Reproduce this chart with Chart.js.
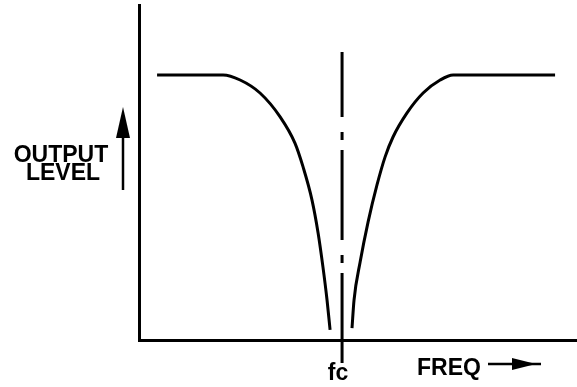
<!DOCTYPE html>
<html>
<head>
<meta charset="utf-8">
<script src="https://cdn.jsdelivr.net/npm/chart.js@4/dist/chart.umd.min.js"></script>
<style>
  html, body { margin: 0; padding: 0; background: #fff; }
  #wrap { width: 577px; height: 387px; }
</style>
</head>
<body>
<div id="wrap"><canvas id="notch"></canvas></div>
<script>
// frequency normalised to fc, output level normalised to the passband
const lowerFreq  = [0.089, 0.300, 0.414, 0.498, 0.596, 0.695, 0.768, 0.808, 0.852, 0.882, 0.906, 0.926, 0.941];
const lowerLevel = [1.000, 1.000, 1.000, 0.981, 0.932, 0.842, 0.743, 0.653, 0.528, 0.404, 0.275, 0.151, 0.038];
const upperFreq  = [1.049, 1.059, 1.089, 1.128, 1.172, 1.212, 1.251, 1.320, 1.399, 1.483, 1.547, 2.049];
const upperLevel = [0.045, 0.151, 0.294, 0.445, 0.585, 0.691, 0.766, 0.857, 0.932, 0.981, 1.000, 1.000];
const centreFreq = 1.0;
const centreSpan = [-0.087, 1.087];
const xMax = 2.157;
const yMax = 1.264;
const FONT = 'bold 23px "Liberation Sans", Arial, sans-serif';

function toPoints(xs, ys) {
  return xs.map((x, i) => ({ x, y: ys[i] }));
}

// labels + arrows around the plot
const annotations = {
  id: 'annotations',
  afterDraw(chart) {
    const { ctx } = chart;
    const fcX = chart.scales.x.getPixelForValue(centreFreq);
    ctx.save();
    ctx.fillStyle = '#000';
    ctx.strokeStyle = '#000';
    ctx.font = FONT;
    ctx.textBaseline = 'alphabetic';

    ctx.textAlign = 'center';
    ctx.fillText('OUTPUT', 61, 162);
    ctx.fillText('LEVEL', 63, 180);
    ctx.fillText('fc', fcX - 4, 380);

    ctx.textAlign = 'left';
    ctx.fillText('FREQ', 417, 375);

    // vertical arrow
    ctx.lineWidth = 2.5;
    ctx.beginPath();
    ctx.moveTo(123, 130);
    ctx.lineTo(123, 190);
    ctx.stroke();
    ctx.beginPath();
    ctx.moveTo(123, 107);
    ctx.lineTo(116, 138);
    ctx.lineTo(130, 138);
    ctx.closePath();
    ctx.fill();

    // horizontal arrow
    ctx.beginPath();
    ctx.moveTo(488, 364);
    ctx.lineTo(541, 364);
    ctx.stroke();
    ctx.beginPath();
    ctx.moveTo(512, 358);
    ctx.lineTo(536, 364);
    ctx.lineTo(512, 370);
    ctx.closePath();
    ctx.fill();
    ctx.restore();
  }
};

new Chart(document.getElementById('notch'), {
  type: 'line',
  data: {
    datasets: [
      {
        data: toPoints(lowerFreq, lowerLevel),
        borderColor: '#000',
        borderWidth: 3,
        cubicInterpolationMode: 'monotone',
        pointRadius: 0,
      },
      {
        data: toPoints(upperFreq, upperLevel),
        borderColor: '#000',
        borderWidth: 3,
        cubicInterpolationMode: 'monotone',
        pointRadius: 0,
      },
      {
        data: toPoints([centreFreq, centreFreq], centreSpan),
        borderColor: '#000',
        borderWidth: 3,
        borderDash: [90, 10, 8, 15],
        borderCapStyle: 'butt',
        pointRadius: 0,
        clip: false,
      },
    ],
  },
  options: {
    responsive: true,
    maintainAspectRatio: false,
    animation: false,
    events: [],
    layout: { padding: { left: 139, top: 5, right: 0, bottom: 47 } },
    plugins: { legend: { display: false }, tooltip: { enabled: false } },
    scales: {
      x: {
        type: 'linear',
        min: 0,
        max: xMax,
        ticks: { display: false },
        grid: { display: false, drawTicks: false },
        border: { display: true, width: 3, color: '#000' },
      },
      y: {
        type: 'linear',
        min: 0,
        max: yMax,
        ticks: { display: false },
        grid: { display: false, drawTicks: false },
        border: { display: true, width: 3, color: '#000' },
      },
    },
  },
  plugins: [annotations],
});
</script>
</body>
</html>
